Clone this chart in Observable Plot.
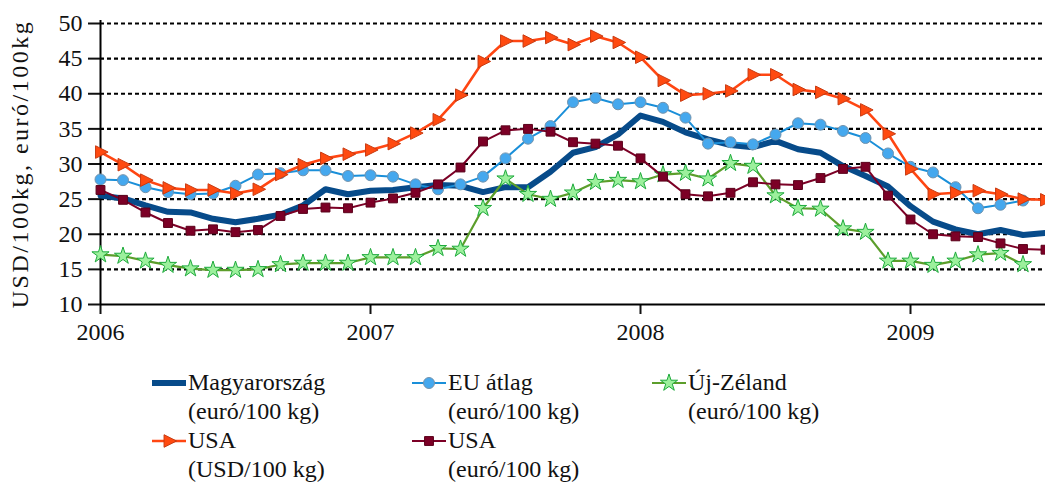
<!DOCTYPE html>
<html>
<head>
<meta charset="utf-8">
<script src="https://cdn.jsdelivr.net/npm/d3@7"></script>
<script src="https://cdn.jsdelivr.net/npm/@observablehq/plot@0.6"></script>
<style>
  html, body { margin: 0; padding: 0; background: #fff; }
  #wrap { position: relative; width: 1045px; height: 485px; overflow: hidden; }
  #wrap, #wrap * { font-family: "Liberation Serif", "Times New Roman" !important; }
  .leg { position: absolute; display: flex; align-items: flex-start; }
  .leg svg { display: block; margin-top: 5px; }
  .leg .txt { font-size: 24px; line-height: 29px; color: #111; white-space: pre; margin-left: 2px; }
</style>
</head>
<body>
<div id="wrap"></div>
<script>
// ---- data (monthly, starting January 2006) ----
const startYear = 2006;
const magyar = [25.5, 25.1, 24.1, 23.2, 23.1, 22.2, 21.7, 22.2, 22.8, 24.1, 26.4, 25.7,
  26.2, 26.3, 26.7, 27.0, 26.9, 26.0, 26.7, 26.7, 28.9, 31.6, 32.4, 34.2,
  36.9, 36.0, 34.5, 33.5, 32.7, 32.4, 33.3, 32.1, 31.6, 29.7, 28.3, 26.8,
  24.0, 21.8, 20.7, 20.0, 20.6, 19.9, 20.2];
const euAtlag = [27.8, 27.7, 26.7, 26.0, 25.7, 25.8, 26.9, 28.5, 28.7, 29.1, 29.1, 28.3,
  28.4, 28.2, 27.1, 26.4, 27.1, 28.2, 30.8, 33.6, 35.4, 38.8, 39.4, 38.5,
  38.8, 38.0, 36.6, 32.9, 33.1, 32.8, 34.2, 35.8, 35.6, 34.7, 33.7, 31.5,
  29.6, 28.8, 26.7, 23.7, 24.2, 24.8];
const ujZeland = [17.1, 16.9, 16.2, 15.6, 15.1, 14.9, 14.9, 15.0, 15.7, 15.9, 15.9, 15.9,
  16.7, 16.7, 16.7, 18.0, 17.9, 23.7, 27.9, 25.7, 25.0, 25.9, 27.4, 27.7,
  27.5, 28.5, 28.7, 27.9, 30.1, 29.7, 25.5, 23.7, 23.6, 20.8, 20.3, 16.2,
  16.2, 15.6, 16.2, 17.1, 17.3, 15.7];
const usaUsd = [31.7, 29.9, 27.7, 26.6, 26.3, 26.3, 25.8, 26.4, 28.5, 29.9, 30.8, 31.4,
  32.0, 32.9, 34.4, 36.3, 39.8, 44.6, 47.5, 47.5, 48.0, 47.0, 48.2, 47.3,
  45.2, 41.9, 39.8, 40.0, 40.4, 42.7, 42.7, 40.6, 40.2, 39.3, 37.7, 34.3,
  29.3, 25.7, 25.9, 26.2, 25.7, 25.0, 24.9];
const usaEur = [26.3, 24.9, 23.1, 21.6, 20.5, 20.7, 20.3, 20.6, 22.6, 23.6, 23.8, 23.7,
  24.5, 25.1, 25.9, 27.1, 29.5, 33.2, 34.8, 35.0, 34.6, 33.1, 32.9, 32.6,
  30.8, 28.2, 25.7, 25.4, 25.9, 27.4, 27.1, 27.0, 28.0, 29.3, 29.6, 25.5,
  22.1, 20.0, 19.7, 19.6, 18.7, 17.9, 17.8];
const xTicks = [2006, 2007, 2008, 2009];
const yTicks = [10, 15, 20, 25, 30, 35, 40, 45, 50];
const yLabel = "USD/100kg, euró/100kg";
const legendLabels = ["Magyarország\n(euró/100 kg)", "EU átlag\n(euró/100 kg)", "Új-Zéland\n(euró/100 kg)",
  "USA\n(USD/100 kg)", "USA\n(euró/100 kg)"];

const fontStack = "'Liberation Serif', 'Times New Roman'";

// custom right-pointing triangle
const triRight = {
  draw(ctx, size) {
    const r = Math.sqrt(size / Math.PI);
    ctx.moveTo(r * 1.15, 0);
    ctx.lineTo(-r * 0.75, -r * 0.95);
    ctx.lineTo(-r * 0.75, r * 0.95);
    ctx.closePath();
  }
};

const series = [
  {key: "hu", values: magyar, stroke: "#074b8a", width: 6, symbol: null},
  {key: "eu", values: euAtlag, stroke: "#1a8fd9", width: 2, symbol: "circle", fill: "#45a8ee", dotStroke: "#7393ad", r: 5.5},
  {key: "nz", values: ujZeland, stroke: "#5c9e2b", width: 2.2, symbol: "star", fill: "#9cf09c", dotStroke: "#1eaa3c", r: 5.4},
  {key: "usd", values: usaUsd, stroke: "#ff4612", width: 2.6, symbol: triRight, fill: "#ff4a10", dotStroke: "#c83a10", r: 6.6},
  {key: "eur", values: usaEur, stroke: "#7c0026", width: 2, symbol: "square", fill: "#7c0026", dotStroke: "#5a001a", r: 5.0}
];
series.forEach((s, k) => s.label = legendLabels[k]);

const marks = [
  Plot.ruleY(yTicks.filter(d => d > yTicks[0]), {stroke: "black", strokeWidth: 2.2, strokeDasharray: "4,3"}),
  Plot.axisY({ticks: yTicks, tickSize: 12, tickPadding: 6, strokeWidth: 2, label: null, tickFormat: d => String(d), fontSize: 24}),
  Plot.axisX({ticks: xTicks, tickSize: 10, tickPadding: 8, strokeWidth: 2, label: null, tickFormat: d => String(d), fontSize: 24}),
  Plot.ruleX([xTicks[0]], {stroke: "black", strokeWidth: 2, insetTop: -3}),
  Plot.ruleY([yTicks[0]], {stroke: "black", strokeWidth: 2}),
  Plot.text([yLabel], {frameAnchor: "left", rotate: -90, dx: -80, fontSize: 24, fill: "#111", textAnchor: "middle", className: "ylab"})
];
for (const s of series) {
  const rows = s.values.map((v, i) => ({t: startYear + i / 12, v}));
  marks.push(Plot.line(rows, {x: "t", y: "v", stroke: s.stroke, strokeWidth: s.width, strokeLinejoin: "round"}));
  if (s.symbol) {
    marks.push(Plot.dot(rows, {x: "t", y: "v", symbol: s.symbol, r: s.r, fill: s.fill, stroke: s.dotStroke, strokeWidth: 1}));
  }
}

const chart = Plot.plot({
  width: 1045,
  height: 350,
  marginLeft: 100,
  marginRight: 0,
  marginTop: 23,
  marginBottom: 46,
  x: {type: "linear", domain: [startYear, startYear + 3.5]},
  y: {domain: [yTicks[0], yTicks[yTicks.length - 1]]},
  style: {fontFamily: fontStack, fontSize: "24px", color: "#111", background: "white"},
  marks
});
const wrap = document.getElementById("wrap");
wrap.appendChild(chart);
d3.select(chart).selectAll("text").each(function () {
  this.style.setProperty("font-family", fontStack, "important");
});
// widen the axis title to the reference's length
d3.select(chart).selectAll("text").filter(function () { return this.textContent === yLabel; })
  .style("letter-spacing", "2.5px");

// legend
const legPos = [[152, 383], [412, 383], [652, 383], [152, 441], [412, 441]];
series.forEach((s, k) => {
  const div = document.createElement("div");
  div.className = "leg";
  div.style.left = legPos[k][0] + "px";
  div.style.top = (legPos[k][1] - 15) + "px";
  const svg = d3.create("svg").attr("width", 34).attr("height", 20);
  svg.append("line").attr("x1", 0).attr("x2", 34).attr("y1", 10).attr("y2", 10)
    .attr("stroke", s.stroke).attr("stroke-width", s.width);
  if (s.symbol) {
    const type = typeof s.symbol === "string"
      ? {circle: d3.symbolCircle, star: d3.symbolStar, square: d3.symbolSquare}[s.symbol]
      : s.symbol;
    svg.append("path").attr("transform", "translate(17,10)")
      .attr("d", d3.symbol(type, Math.PI * s.r * s.r)())
      .attr("fill", s.fill).attr("stroke", s.dotStroke).attr("stroke-width", 1);
  }
  div.appendChild(svg.node());
  const t = document.createElement("div");
  t.className = "txt";
  t.style.setProperty("font-family", fontStack, "important");
  t.textContent = s.label;
  div.appendChild(t);
  wrap.appendChild(div);
});
</script>
</body>
</html>
